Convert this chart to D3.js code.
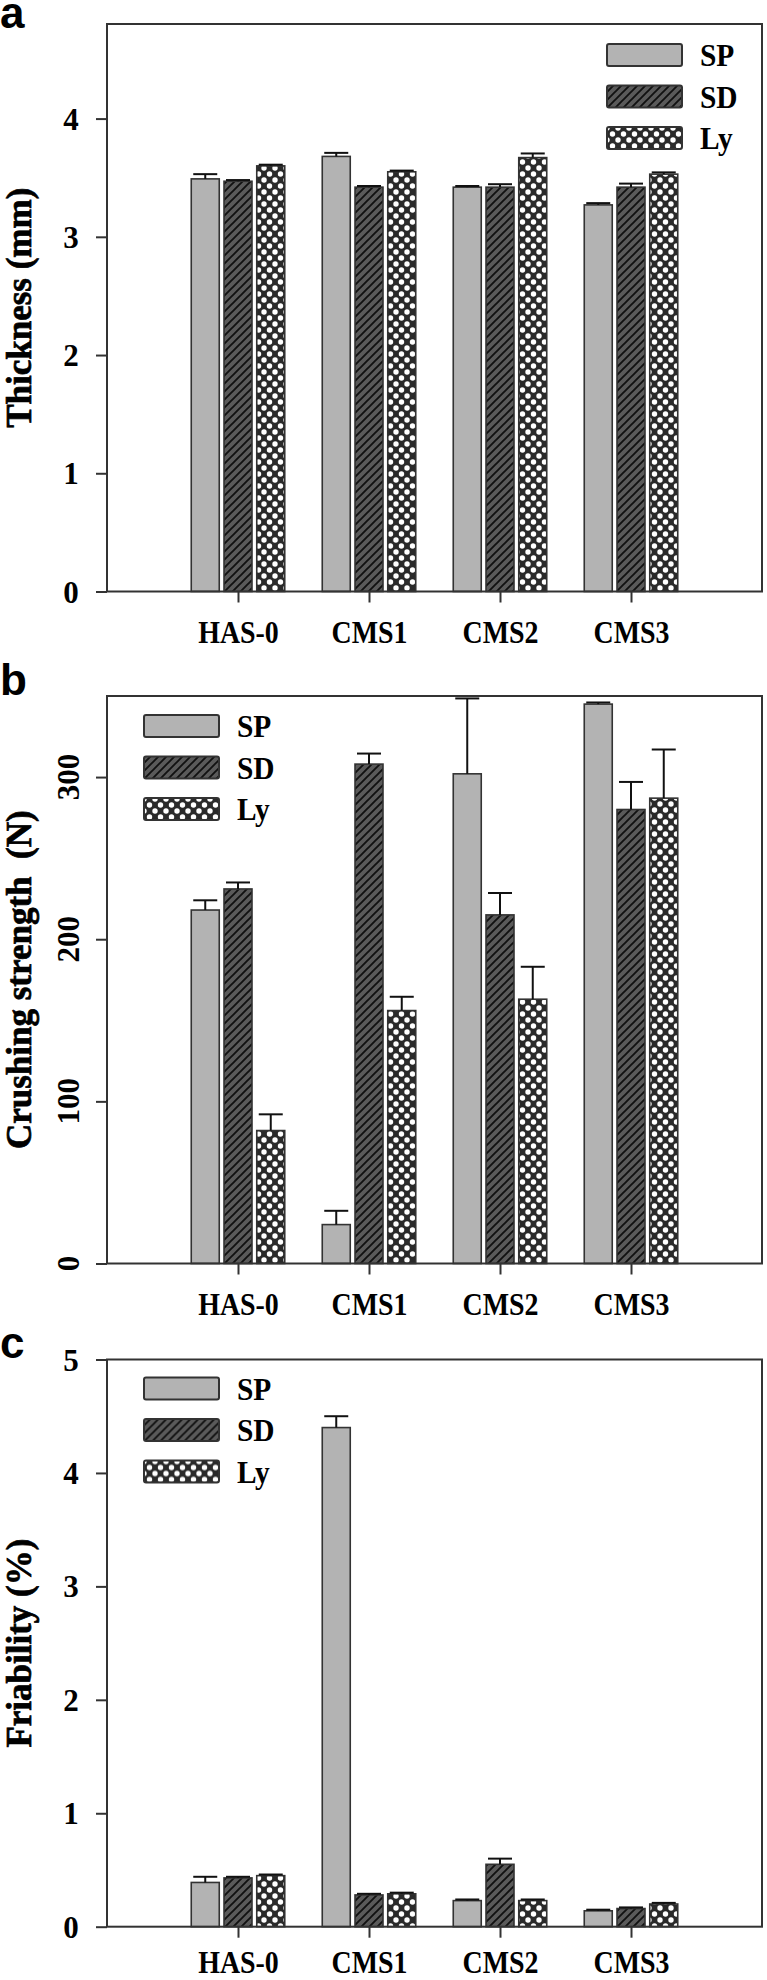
<!DOCTYPE html>
<html><head><meta charset="utf-8">
<script src="https://cdn.jsdelivr.net/npm/d3@7/dist/d3.min.js"></script>
<style>body{margin:0;background:#fff}svg{display:block}</style>
</head><body><svg id="chart" width="767" height="1980"></svg>
<script>
// ---------- data ----------
const categories = ["HAS-0", "CMS1", "CMS2", "CMS3"];
const seriesNames = ["SP", "SD", "Ly"];

// Panel a: Thickness (mm)
const thicknessSP = [3.49, 3.68, 3.42, 3.27];
const thicknessSD = [3.47, 3.42, 3.42, 3.42];
const thicknessLy = [3.60, 3.55, 3.67, 3.53];
const thicknessSPErr = [0.04, 0.03, 0.01, 0.015];
const thicknessSDErr = [0.01, 0.01, 0.025, 0.03];
const thicknessLyErr = [0.01, 0.01, 0.035, 0.015];
const thicknessTicks = [0, 1, 2, 3, 4];

// Panel b: Crushing strength (N)
const crushingSP = [218, 24, 302, 345];
const crushingSD = [231, 308, 215, 280];
const crushingLy = [82, 156, 163, 287];
const crushingSPErr = [6, 8.5, 46.5, 1];
const crushingSDErr = [4, 6.5, 13.5, 17];
const crushingLyErr = [10, 8.5, 20, 30];
const crushingTicks = [0, 100, 200, 300];

// Panel c: Friability (%)
const friabilitySP = [0.39, 4.40, 0.23, 0.14];
const friabilitySD = [0.43, 0.28, 0.55, 0.16];
const friabilityLy = [0.45, 0.29, 0.23, 0.20];
const friabilitySPErr = [0.05, 0.10, 0.01, 0.01];
const friabilitySDErr = [0.01, 0.01, 0.05, 0.01];
const friabilityLyErr = [0.01, 0.01, 0.01, 0.01];
const friabilityTicks = [0, 1, 2, 3, 4, 5];

// ---------- layout ----------
const svg = d3.select("#chart");
const left = 107, right = 762;
const serif = "'Liberation Serif','Times New Roman',serif";
const sans = "'Liberation Sans',Arial,sans-serif";

const panels = [
  { letter: "a", letterY: 28, title: "Thickness (mm)", top: 24, bottom: 591.5, domain: [0, 4.8],
    ticks: thicknessTicks, rotateTicks: false, legendX: 607, legendY: 44, labelOffset: 52,
    values: [thicknessSP, thicknessSD, thicknessLy], errs: [thicknessSPErr, thicknessSDErr, thicknessLyErr] },
  { letter: "b", letterY: 695, title: "Crushing strength  (N)", top: 696, bottom: 1263.5, domain: [0, 350],
    ticks: crushingTicks, rotateTicks: true, legendX: 144, legendY: 715, labelOffset: 52,
    values: [crushingSP, crushingSD, crushingLy], errs: [crushingSPErr, crushingSDErr, crushingLyErr] },
  { letter: "c", letterY: 1358, title: "Friability (%)", top: 1359.5, bottom: 1926.7, domain: [0, 5],
    ticks: friabilityTicks, rotateTicks: false, legendX: 144, legendY: 1377.5, labelOffset: 46,
    values: [friabilitySP, friabilitySD, friabilityLy], errs: [friabilitySPErr, friabilitySDErr, friabilityLyErr] }
];

// ---------- patterns ----------
const defs = svg.append("defs");
const hatch = defs.append("pattern").attr("id", "hatch")
  .attr("patternUnits", "userSpaceOnUse").attr("width", 8).attr("height", 8);
hatch.append("rect").attr("width", 8).attr("height", 8).attr("fill", "#5a5a5a");
hatch.append("path").attr("d", "M-2,2 L2,-2 M0,8 L8,0 M6,10 L10,6")
  .attr("stroke", "#111").attr("stroke-width", 1.9);

const dw = 11, dh = 12;
const dots = defs.append("pattern").attr("id", "dots")
  .attr("patternUnits", "userSpaceOnUse").attr("width", dw).attr("height", dh);
dots.append("rect").attr("width", dw).attr("height", dh).attr("fill", "#2a2a2a");
[[0, 0], [dw, 0], [0, dh], [dw, dh], [dw / 2, dh / 2]].forEach(([cx, cy]) =>
  dots.append("circle").attr("cx", cx).attr("cy", cy).attr("r", 2.7).attr("fill", "#fff"));

const fills = { SP: "#b3b3b3", SD: "url(#hatch)", Ly: "url(#dots)" };

// ---------- scales ----------
const xCat = d3.scalePoint().domain(categories).range([left, right]).padding(1);
const step = xCat.step();
const xSub = d3.scaleBand().domain(seriesNames)
  .range([-0.375 * step, 0.375 * step]).paddingInner(0.145).paddingOuter(0.0725);

panels.forEach(p => {
  const g = svg.append("g");
  const y = d3.scaleLinear().domain(p.domain).range([p.bottom, p.top]);

  // bars
  seriesNames.forEach((s, si) => {
    const rows = categories.map((c, ci) => ({ c, v: p.values[si][ci], e: p.errs[si][ci] }));
    g.append("g").selectAll("rect").data(rows).join("rect")
      .attr("x", d => xCat(d.c) + xSub(s))
      .attr("width", xSub.bandwidth())
      .attr("y", d => y(d.v))
      .attr("height", d => y(0) - y(d.v))
      .attr("fill", fills[s])
      .attr("stroke", "#333").attr("stroke-width", 1.6);
    // error bars (upper only)
    const eg = g.append("g").attr("stroke", "#111").attr("stroke-width", 2);
    const cx = d => xCat(d.c) + xSub(s) + xSub.bandwidth() / 2;
    eg.selectAll("line.v").data(rows).join("line").attr("class", "v")
      .attr("x1", cx).attr("x2", cx)
      .attr("y1", d => y(d.v)).attr("y2", d => y(d.v + d.e));
    eg.selectAll("line.c").data(rows).join("line").attr("class", "c")
      .attr("x1", d => cx(d) - 12).attr("x2", d => cx(d) + 12)
      .attr("y1", d => y(d.v + d.e)).attr("y2", d => y(d.v + d.e));
  });

  // frame
  g.append("rect").attr("x", left).attr("y", p.top)
    .attr("width", right - left).attr("height", p.bottom - p.top)
    .attr("fill", "none").attr("stroke", "#333").attr("stroke-width", 2);

  // y axis (ticks only, labels drawn below)
  const ya = g.append("g").attr("transform", `translate(${left},0)`)
    .call(d3.axisLeft(y).tickValues(p.ticks).tickSize(11).tickSizeOuter(0).tickFormat(""));
  ya.select(".domain").remove();
  ya.selectAll(".tick line").attr("stroke", "#333").attr("stroke-width", 2);

  const yl = g.append("g").selectAll("text").data(p.ticks).join("text")
    .attr("font-family", serif).attr("font-weight", "bold").attr("font-size", 31)
    .attr("fill", "#000").attr("text-anchor", "middle")
    .text(d => d3.format("d")(d));
  if (p.rotateTicks) {
    yl.attr("transform", d => `translate(79,${y(d)}) rotate(-90)`);
  } else {
    yl.attr("x", 71).attr("y", d => y(d) + 11);
  }

  // x axis
  const xa = g.append("g").attr("transform", `translate(0,${p.bottom})`)
    .call(d3.axisBottom(xCat).tickSize(11).tickSizeOuter(0));
  xa.select(".domain").remove();
  xa.selectAll(".tick line").attr("stroke", "#333").attr("stroke-width", 2);
  xa.selectAll(".tick text")
    .attr("font-family", serif).attr("font-weight", "bold").attr("font-size", 31)
    .attr("fill", "#000").attr("y", p.labelOffset).attr("dy", 0)
    .attr("transform", "scale(0.9,1)");

  // y title
  g.append("text")
    .attr("transform", `translate(31,${(p.top + p.bottom) / 2}) rotate(-90)`)
    .attr("text-anchor", "middle")
    .style("white-space", "pre")
    .attr("font-family", serif).attr("font-weight", "bold").attr("font-size", 35)
    .attr("fill", "#000").attr("stroke", "#000").attr("stroke-width", 0.7)
    .text(p.title);

  // panel letter
  g.append("text").attr("x", 0).attr("y", p.letterY)
    .attr("font-family", sans).attr("font-weight", "bold").attr("font-size", 44)
    .attr("fill", "#000").text(p.letter);

  // legend
  const lg = g.append("g").attr("transform", `translate(${p.legendX},${p.legendY})`);
  seriesNames.forEach((s, i) => {
    lg.append("rect").attr("x", 0).attr("y", i * 41.5).attr("width", 75).attr("height", 22)
      .attr("rx", 2).attr("fill", fills[s]).attr("stroke", "#333").attr("stroke-width", 2);
    lg.append("text")
      .attr("transform", `translate(93,${i * 41.5 + 22}) scale(0.92,1)`)
      .attr("font-family", serif).attr("font-weight", "bold").attr("font-size", 32)
      .attr("fill", "#000").text(s);
  });
});
</script>
</body></html>
